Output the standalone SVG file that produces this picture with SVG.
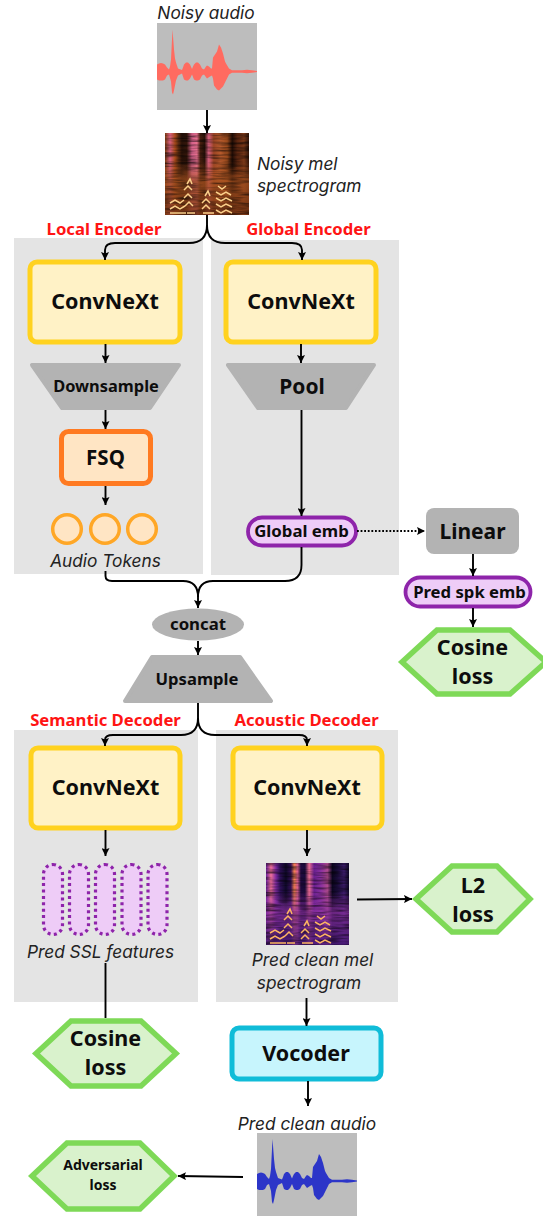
<svg xmlns="http://www.w3.org/2000/svg" xmlns:xlink="http://www.w3.org/1999/xlink" width="543" height="1216" viewBox="0 0 543 1216">
<style>
text{font-family:"Noto Sans","Open Sans","Liberation Sans",sans-serif;text-anchor:middle;fill:#0d0d0d}
.b{font-weight:700}
.i{font-family:Inter,"Open Sans","Liberation Sans",sans-serif;font-style:italic;font-size:17.300px;fill:#222}
.r{font-family:"Noto Sans","Liberation Sans",sans-serif;font-weight:700;font-size:16.700px;fill:#ff1414}
.panel{fill:#e4e4e4}
.conv{fill:#fff2c6;stroke:#ffd21f;stroke-width:5}
.trap{fill:#b3b3b3;stroke:#b3b3b3;stroke-width:4;stroke-linejoin:round}
.hex{fill:#d9f2cc;stroke:#7ed957;stroke-width:5.500;stroke-linejoin:miter}
.pill{fill:#eeccf7;stroke:#8e24aa;stroke-width:3.800}
.dot{fill:#eeccf7;stroke:#8e24aa;stroke-width:3.200;stroke-dasharray:3 3.400}
.tok{fill:#ffe5c4;stroke:#ffa726;stroke-width:3.500}
.c{fill:none;stroke:#000;stroke-width:1.900}
.a{marker-end:url(#ah)}
</style>
<defs>
<marker id="ah" markerUnits="userSpaceOnUse" markerWidth="9" markerHeight="8" refX="8" refY="4" orient="auto"><path d="M0 0L8 4L0 8L1.500 4Z" fill="#000"/></marker>
<path id="wave" d="M0 -7L2 -8L4 -8.500L6 -8L8 -7L10 -4L12 -2L13 -5L14 -12L15.500 -42L17 -22L18 -13L19 -9L21 -3L25 -1.500L26 -4L27 -7L29 -9L31 -9L33 -7L35 -2.500L36 -5L37 -7L39 -9L41 -9L43 -7L45 -3L47 -2L49 -5L50 -6L52 -5L54 -3L55 -3L56 -14L58 -17L60 -20L62 -27L64 -24L66 -18L68 -10L69 -8L72 -3L75 -1.200L85 -1.200L90 -1.800L95 -1.200L100 -.6V.6L95 1.200L90 1.800L85 1.200L75 1.200L72 3L69 9L66 15L64 17L62 19L60 18L57 14L56 7L55 4L53 5L50 7L47 3L45 4L43 8L41 9L39 9L37 8L35 3L33 7L31 9L29 9L27 8L25 2L21 4L19 9L18 14L17 19L16 23L15 21L14 10L12 3L10 4L8 8L6 9L4 9L2 9L0 8Z"/>
<linearGradient id="g1" x1="0" x2="1" y1="0" y2="0">
<stop offset="0" stop-color="#7a3a12"/><stop offset=".06" stop-color="#d9607f"/><stop offset=".12" stop-color="#a84a1a"/><stop offset=".16" stop-color="#5a2a10"/><stop offset=".2" stop-color="#2a1208"/><stop offset=".26" stop-color="#33160a"/><stop offset=".32" stop-color="#d4608a"/><stop offset=".38" stop-color="#e8708f"/><stop offset=".42" stop-color="#4a2010"/><stop offset=".47" stop-color="#2a1208"/><stop offset=".52" stop-color="#d9607f"/><stop offset=".58" stop-color="#9a4424"/><stop offset=".66" stop-color="#b65a2c"/><stop offset=".74" stop-color="#9a4a1c"/><stop offset=".8" stop-color="#200c05"/><stop offset=".86" stop-color="#5a2510"/><stop offset=".94" stop-color="#7a3818"/><stop offset="1" stop-color="#301408"/>
</linearGradient>
<linearGradient id="g2" x1="0" x2="1" y1="0" y2="0">
<stop offset="0" stop-color="#6a1f9a"/><stop offset=".06" stop-color="#f0709a"/><stop offset=".12" stop-color="#7c2aa0"/><stop offset=".17" stop-color="#30105a"/><stop offset=".24" stop-color="#0e0828"/><stop offset=".3" stop-color="#35105a"/><stop offset=".34" stop-color="#f58050"/><stop offset=".38" stop-color="#e06090"/><stop offset=".42" stop-color="#200a40"/><stop offset=".47" stop-color="#1a0a38"/><stop offset=".52" stop-color="#e86a90"/><stop offset=".58" stop-color="#6a2090"/><stop offset=".66" stop-color="#8a30a0"/><stop offset=".74" stop-color="#b04a90"/><stop offset=".8" stop-color="#0c0622"/><stop offset=".86" stop-color="#1a0c3a"/><stop offset=".94" stop-color="#3a1a68"/><stop offset="1" stop-color="#100828"/>
</linearGradient>
<linearGradient id="low1" x1="0" x2="0" y1="0" y2="1"><stop offset=".35" stop-color="#a8521f" stop-opacity="0"/><stop offset=".6" stop-color="#a8521f" stop-opacity=".75"/><stop offset="1" stop-color="#7a3614" stop-opacity=".85"/></linearGradient>
<linearGradient id="low2" x1="0" x2="0" y1="0" y2="1"><stop offset=".35" stop-color="#8a30a0" stop-opacity="0"/><stop offset=".6" stop-color="#8a30a0" stop-opacity=".75"/><stop offset="1" stop-color="#4a1a78" stop-opacity=".85"/></linearGradient>
<filter id="streak" x="0" y="0" width="1" height="1"><feTurbulence type="fractalNoise" baseFrequency=".05 .4" numOctaves="2" seed="4"/><feColorMatrix values="0 0 0 0 0 0 0 0 0 0 0 0 0 0 0 1.300 0 0 0 -.5"/></filter>
</defs>

<g id="panels">
<rect class="panel" x="14" y="238" width="189" height="336"/>
<rect class="panel" x="211" y="240" width="188" height="335"/>
<rect class="panel" x="14" y="730" width="184" height="272"/>
<rect class="panel" x="216" y="730" width="182" height="272"/>
</g>

<g id="noisy-audio">
<text class="i" x="206" y="18.500">Noisy audio</text>
<rect x="157" y="23" width="100" height="87" fill="#bdbdbd"/>
<use xlink:href="#wave" href="#wave" transform="translate(157,71.500)" fill="#ff6b60"/>
</g>

<g id="noisy-mel">
<rect x="165" y="133" width="84" height="82" fill="url(#g1)"/>
<rect x="165" y="133" width="84" height="82" fill="url(#low1)"/>
<rect x="165" y="133" width="84" height="82" filter="url(#streak)"/>
<g fill="none" stroke="#fbd08a" stroke-width="1.500">
<path d="M170 203l5 -3 5 3 4-3M170 209l5-3 5 3 5-3M170 213h16"/>
<path d="M184 190l4-4 4 4M184 198l4-4 4 4M185 206l4-4 4 4M187 184l3-5 2 5M187 213h8"/>
<path d="M202 203l4-4 4 4M202 209l4-4 4 4M203 213h11M205 196l3-5 2 5"/>
<path d="M216 192l5 3 5-3 5 3M216 198l5 3 5-3 6 3M216 204l5 3 5-3 6 3M216 210l5 3 5-3 6 3M218 186l4 3 4-3"/>
</g>
<text class="i" x="257" y="170" style="text-anchor:start">Noisy mel</text>
<text class="i" x="257" y="192" style="text-anchor:start">spectrogram</text>
</g>

<g id="labels">
<text class="r" x="104" y="235">Local Encoder</text>
<text class="r" x="308.500" y="235">Global Encoder</text>
<text class="r" x="105.500" y="726">Semantic Decoder</text>
<text class="r" x="306.500" y="726">Acoustic Decoder</text>
</g>

<g id="local-convnext"><rect class="conv" x="30" y="262" width="150" height="80" rx="7"/><text class="b" x="105" y="309" font-size="21.500">ConvNeXt</text></g>
<g id="global-convnext"><rect class="conv" x="226" y="262" width="150" height="80" rx="7"/><text class="b" x="301" y="309" font-size="21.500">ConvNeXt</text></g>
<g id="downsample"><path class="trap" d="M32 365H179L150 408H62Z"/><text class="b" x="106" y="392" font-size="16.400">Downsample</text></g>
<g id="pool"><path class="trap" d="M228 365H374L346 408H258Z"/><text class="b" x="302" y="394" font-size="21">Pool</text></g>
<g id="fsq"><rect x="61.500" y="431.500" width="89" height="52" rx="7" fill="#ffe5c4" stroke="#ff7a21" stroke-width="5"/><text class="b" x="105.500" y="465" font-size="20.500">FSQ</text></g>
<g id="audio-tokens">
<circle class="tok" cx="67" cy="529" r="14.300"/><circle class="tok" cx="105" cy="529" r="14.300"/><circle class="tok" cx="142" cy="529" r="14.300"/>
<text class="i" x="105.500" y="567">Audio Tokens</text>
</g>
<g id="global-emb"><rect class="pill" x="248" y="517.500" width="108" height="28" rx="14"/><text class="b" x="301.500" y="537" font-size="16.800">Global emb</text></g>
<g id="linear"><rect x="426" y="508" width="93" height="46" rx="8" fill="#b3b3b3"/><text class="b" x="472.500" y="539" font-size="21">Linear</text></g>
<g id="pred-spk"><rect class="pill" x="405.500" y="577.500" width="125" height="29" rx="14.500"/><text class="b" x="469.500" y="597.500" font-size="16.700">Pred spk emb</text></g>
<g id="cosine-top"><path class="hex" d="M402 662L437 630H510L546 662L510 694H437Z"/><text class="b" x="472.500" y="655" font-size="21.500">Cosine</text><text class="b" x="472.500" y="684" font-size="21.500">loss</text></g>
<g id="concat"><ellipse cx="198" cy="624.500" rx="46" ry="16" fill="#b3b3b3"/><text class="b" x="198" y="630" font-size="16.800">concat</text></g>
<g id="upsample"><path class="trap" d="M152 657H240L271 701H125Z"/><text class="b" x="197" y="685" font-size="16.600">Upsample</text></g>
<g id="semantic-convnext"><rect class="conv" x="31" y="748" width="149" height="80" rx="7"/><text class="b" x="105.500" y="795" font-size="21.500">ConvNeXt</text></g>
<g id="acoustic-convnext"><rect class="conv" x="233" y="748" width="149" height="80" rx="7"/><text class="b" x="307" y="795" font-size="21.500">ConvNeXt</text></g>
<g id="ssl-features">
<rect class="dot" x="43.500" y="864.500" width="19" height="70" rx="9.500"/>
<rect class="dot" x="69.500" y="864.500" width="19" height="70" rx="9.500"/>
<rect class="dot" x="95.500" y="864.500" width="19" height="70" rx="9.500"/>
<rect class="dot" x="122" y="864.500" width="19" height="70" rx="9.500"/>
<rect class="dot" x="148" y="864.500" width="19" height="70" rx="9.500"/>
<text class="i" x="100.500" y="958">Pred SSL features</text>
</g>
<g id="clean-mel">
<rect x="266" y="863" width="83" height="82" fill="url(#g2)"/>
<rect x="266" y="863" width="83" height="82" fill="url(#low2)"/>
<rect x="266" y="863" width="83" height="82" filter="url(#streak)"/>
<g fill="none" stroke="#fdb562" stroke-width="1.500">
<path d="M270 933l5-3 5 3 4-3M270 939l5-3 5 3 5-3M270 943h16"/>
<path d="M284 920l4-4 4 4M284 928l4-4 4 4M285 936l4-4 4 4M287 914l3-5 2 5M287 943h8"/>
<path d="M301 933l4-4 4 4M301 939l4-4 4 4M302 943h11M304 926l3-5 2 5"/>
<path d="M315 922l5 3 5-3 5 3M315 928l5 3 5-3 6 3M315 934l5 3 5-3 6 3M315 940l5 3 5-3 6 3M317 916l4 3 4-3"/>
</g>
<text class="i" x="312.500" y="966">Pred clean mel</text>
<text class="i" x="309" y="989">spectrogram</text>
</g>
<g id="l2-loss"><path class="hex" d="M416 899L452 866H497L530 899L497 932H452Z"/><text class="b" x="473" y="893" font-size="21.500">L2</text><text class="b" x="473" y="922" font-size="21.500">loss</text></g>
<g id="cosine-bottom"><path class="hex" d="M36 1053.500L71 1021H141L176 1053.500L141 1086H71Z"/><text class="b" x="105.500" y="1046" font-size="21.500">Cosine</text><text class="b" x="105.500" y="1075" font-size="21.500">loss</text></g>
<g id="vocoder"><rect x="232" y="1028" width="149" height="51" rx="7" fill="#c7f5fd" stroke="#10bcd8" stroke-width="5"/><text class="b" x="306" y="1061" font-size="21.500">Vocoder</text></g>
<g id="clean-audio">
<text class="i" x="307" y="1130">Pred clean audio</text>
<rect x="257" y="1133" width="100" height="83" fill="#bdbdbd"/>
<use xlink:href="#wave" href="#wave" transform="translate(257,1181)" fill="#2c35c8"/>
</g>
<g id="adversarial-loss"><path class="hex" d="M32 1176L67 1143H140L174 1176L140 1209H67Z"/><text class="b" x="103" y="1170" font-size="14">Adversarial</text><text class="b" x="103" y="1190" font-size="14">loss</text></g>

<g id="connectors">
<path class="c a" d="M207 110V133"/>
<path class="c" d="M207 215V225Q207 243 189 243"/>
<path class="c a" d="M189 243H115Q105 243 105 250V260"/>
<path class="c" d="M207 225Q207 243 225 243"/>
<path class="c a" d="M225 243H292Q302 243 302 250V260"/>
<path class="c a" d="M105.500 344V363"/>
<path class="c a" d="M105.500 410V429"/>
<path class="c a" d="M105.500 486V505"/>
<path class="c a" d="M301 344V363"/>
<path class="c a" d="M301.500 410V516"/>
<path class="c" d="M105.500 571V576Q105.500 581 112 581H183Q198 581 198 597"/>
<path class="c" d="M301.500 547V565Q301.500 581 285 581H213Q198 581 198 597"/>
<path class="c a" d="M198 590V608"/>
<path class="c a" d="M357 531H425" stroke-dasharray="1.800 1.800"/>
<path class="c a" d="M473 554V576"/>
<path class="c a" d="M473 608V627"/>
<path class="c a" d="M198 641V655"/>
<path class="c" d="M198 703V718Q198 735 181 735"/>
<path class="c a" d="M181 735H113Q105 735 105 740V746"/>
<path class="c" d="M198 718Q198 735 215 735"/>
<path class="c a" d="M215 735H299Q307 735 307 740V746"/>
<path class="c a" d="M105.500 830V856"/>
<path class="c a" d="M307 830V856"/>
<path class="c a" d="M357 899.500L412 899"/>
<path class="c" d="M105.500 963V1018"/>
<path class="c a" d="M306.500 998V1026"/>
<path class="c a" d="M308 1081V1106"/>
<path class="c a" d="M243 1177L178 1176"/>
</g>
</svg>
